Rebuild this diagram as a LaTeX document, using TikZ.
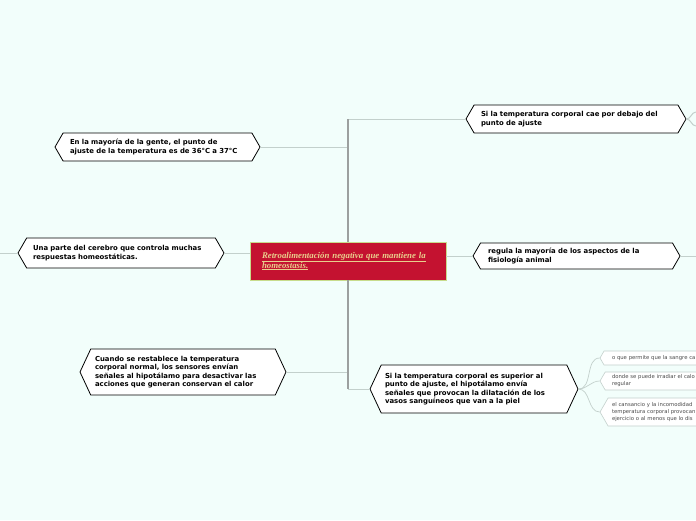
\documentclass[tikz,border=0pt]{standalone}
\usepackage{fontspec}
\setmainfont{DejaVu Sans}
\newfontfamily\titlefont{Liberation Serif}
\usetikzlibrary{shapes.symbols}
\definecolor{Mint}{HTML}{F2FEFB}
\definecolor{Crimson}{HTML}{C41230}
\definecolor{Lime}{HTML}{C8DC8C}
\definecolor{Gold}{HTML}{E9CF8C}
\definecolor{Trunk}{HTML}{9CA09F}
\definecolor{Twig}{HTML}{C3D0CC}
\definecolor{Leafgray}{HTML}{4A4A4A}

\begin{document}
\begin{tikzpicture}[x=1pt,y=-1pt,
  idea/.style={signal,signal to=west and east,signal pointer angle=120,draw=black,fill=white,
    line width=0.8pt,inner sep=0pt,align=left,font=\fontsize{6.9}{8.4}\selectfont\bfseries},
  leaf/.style={signal,signal to=west and east,signal pointer angle=120,draw=Twig,fill=white,
    line width=0.6pt,inner sep=0pt,align=left,text=Leafgray,font=\fontsize{5.3}{7}\selectfont,
    minimum width=200,text width=176},
  trunk/.style={draw=Trunk,line width=1.6pt},
  twig/.style={draw=Twig,line width=1pt}]
  \fill[Mint] (0,0) rectangle (696,520);
  \useasboundingbox (0,0) rectangle (696,520);
  \clip (0,0) rectangle (696,520);
  % centre
  \node[draw=Lime,fill=Crimson,line width=0.8pt,minimum width=196,minimum height=38,text width=172,
    align=left,inner sep=0pt,text=Gold,font=\titlefont\fontsize{8.8}{10}\selectfont\bfseries\itshape]
    (retro) at (348,261) {\underline{Retroalimentación negativa que mantiene la}\\\underline{homeostasis.}};
  % branches
  \node[idea,minimum width=220,minimum height=28,text width=190] (cae) at (576,119)
    {Si la temperatura corporal cae por debajo del\\punto de ajuste};
  \node[idea,minimum width=205,minimum height=28,text width=175] (mayoria) at (157.5,147)
    {En la mayoría de la gente, el punto de\\ajuste de la temperatura es de 36°C a 37°C};
  \node[idea,minimum width=206,minimum height=30,text width=176] (cerebro) at (121,253)
    {Una parte del cerebro que controla muchas\\respuestas homeostáticas.};
  \node[idea,minimum width=207,minimum height=26,text width=177] (regula) at (576.5,256)
    {regula la mayoría de los aspectos de la\\fisiología animal};
  \node[idea,signal pointer angle=130,minimum width=206,minimum height=46,text width=176] (cuando) at (183,372)
    {Cuando se restablece la temperatura\\corporal normal, los sensores envían\\señales al hipotálamo para desactivar las\\acciones que generan conservan el calor};
  \node[idea,signal pointer angle=130,minimum width=208,minimum height=48,text width=178] (superior) at (474,389)
    {Si la temperatura corporal es superior al\\punto de ajuste, el hipotálamo envía\\señales que provocan la dilatación de los\\vasos sanguíneos que van a la piel};
  % leaves
  \node[leaf,minimum height=14] (permite) at (700,358) {o que permite que la sangre ca};
  \node[leaf,minimum height=18] (irradiar) at (700,381) {donde se puede irradiar el calo\\regular};
  \node[leaf,minimum height=28] (cansancio) at (700,412)
    {el cansancio y la incomodidad\\temperatura corporal provocan\\ejercicio o al menos que lo dis};
  \coordinate (westend) at (0,253);
  \coordinate (eastend) at (696,256);
  \coordinate (forkup) at (696,112);
  \coordinate (forkdown) at (696,126);
  % connectors
  \draw[twig] (retro.north |- cae.west) -- (cae.west);
  \draw[twig] (mayoria.east) -- (mayoria.east -| retro.north);
  \draw[trunk] (retro.north) -- (retro.north |- cae.west);
  \draw[twig] (cerebro.east) -- (retro.west |- cerebro.east);
  \draw[twig] (westend) -- (cerebro.west);
  \draw[twig] (retro.east |- regula.west) -- (regula.west);
  \draw[twig] (regula.east) -- (eastend);
  \draw[twig] (cuando.east) -- (cuando.east -| retro.south);
  \draw[twig] (retro.south |- superior.west) -- (superior.west);
  \draw[trunk] (retro.south) -- (retro.south |- superior.west);
  \draw[twig] (cae.east) to[out=0,in=180] (forkup);
  \draw[twig] (cae.east) to[out=0,in=180] (forkdown);
  \foreach \leafname in {permite,irradiar,cansancio}
    \draw[twig,line width=0.7pt] (superior.east) to[out=0,in=180] (\leafname.west);
\end{tikzpicture}
\end{document}
